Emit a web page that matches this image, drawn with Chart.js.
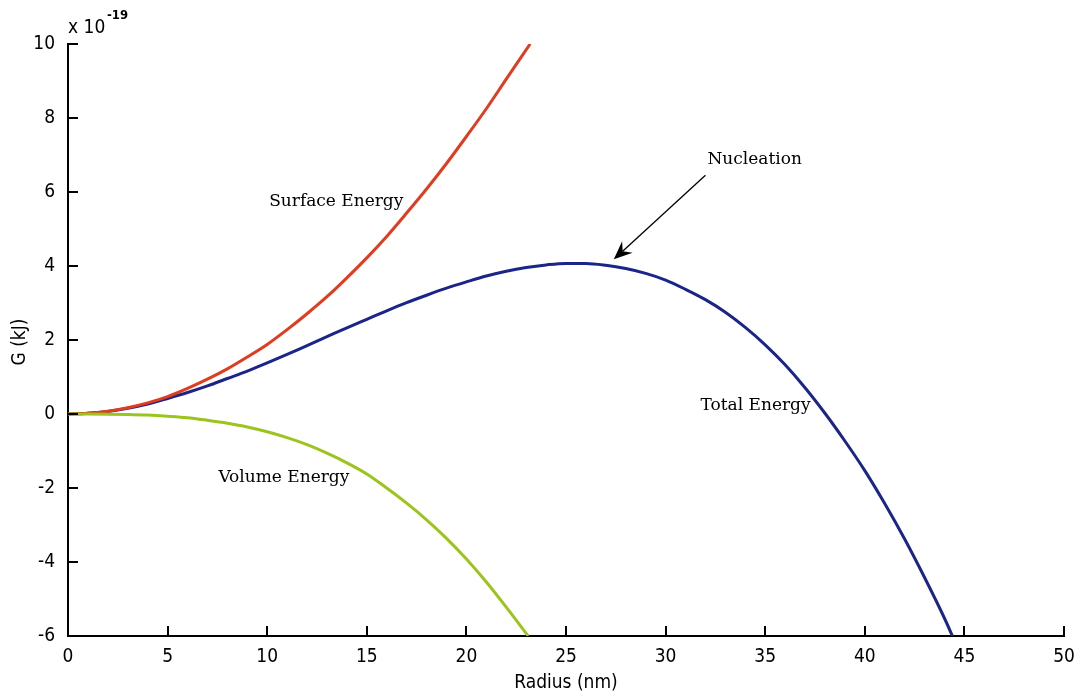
<!DOCTYPE html>
<html>
<head>
<meta charset="utf-8">
<script src="https://cdn.jsdelivr.net/npm/chart.js@4.4.1/dist/chart.umd.min.js"></script>
<style>
    html, body { margin: 0; padding: 0; background: #fff; }
    #wrap { width: 1080px; height: 696px; position: relative; }
</style>
</head>
<body>
<div id="wrap"><canvas id="chart"></canvas></div>
<script>
// 数据 (G in units of 1e-19 kJ)
const totalRadius = [0, 1, 2, 3, 4, 5, 6, 7, 8, 9, 10, 11, 12, 13, 14, 15, 16, 17, 18, 19, 20, 21, 22, 23, 24, 25, 26, 27, 28, 29, 30, 31, 32, 33, 34, 35, 36, 37, 38, 39, 40, 41, 42, 43, 44, 44.4];
const totalEnergy = [0, 0.02, 0.07, 0.155, 0.27, 0.42, 0.58, 0.76, 0.96, 1.16, 1.38, 1.61, 1.85, 2.09, 2.33, 2.56, 2.79, 3.01, 3.21, 3.4, 3.57, 3.73, 3.86, 3.96, 4.03, 4.07, 4.07, 4.02, 3.93, 3.8, 3.62, 3.37, 3.09, 2.75, 2.34, 1.87, 1.33, 0.71, 0.02, -0.73, -1.53, -2.42, -3.38, -4.42, -5.52, -6.0];

const surfaceRadius = [0, 1, 2, 3, 4, 5, 6, 7, 8, 9, 10, 11, 12, 13, 14, 15, 16, 17, 18, 19, 20, 21, 22, 23.2];
const surfaceEnergy = [0, 0.02, 0.075, 0.17, 0.3, 0.47, 0.69, 0.94, 1.22, 1.54, 1.88, 2.28, 2.71, 3.17, 3.68, 4.22, 4.8, 5.43, 6.08, 6.77, 7.5, 8.25, 9.05, 10.0];

const volumeRadius = [0, 1, 2, 3, 4, 5, 6, 7, 8, 9, 10, 11, 12, 13, 14, 15, 16, 17, 18, 19, 20, 21, 22, 23.1];
const volumeEnergy = [0, 0, -0.004, -0.013, -0.03, -0.06, -0.1, -0.17, -0.25, -0.35, -0.48, -0.64, -0.83, -1.06, -1.32, -1.62, -2.0, -2.41, -2.86, -3.36, -3.92, -4.54, -5.22, -6.0];

const xTicks = [0, 5, 10, 15, 20, 25, 30, 35, 40, 45, 50];
const yTicks = [-6, -4, -2, 0, 2, 4, 6, 8, 10];

const curveLabels = ['Surface Energy', 'Nucleation', 'Total Energy', 'Volume Energy'];
const labelAt = [[10.1, 5.73], [32.1, 6.87], [31.75, 0.22], [7.55, -1.72]];
const arrowFrom = [32.0, 6.45];
const arrowTo = [27.4, 4.18];

function pts(xs, ys) {
    return xs.map((x, i) => ({ x: x, y: ys[i] }));
}

const tickFont = { family: "'DejaVu Sans Condensed', 'DejaVu Sans', sans-serif", size: 19 };
const serif = "17px 'DejaVu Serif', serif";

// 轴刻度、标题和注释
const decorations = {
    id: 'decorations',
    afterDraw(chart) {
        const ctx = chart.ctx;
        const xs = chart.scales.x;
        const ys = chart.scales.y;
        const area = chart.chartArea;
        ctx.save();
        ctx.strokeStyle = '#000';
        ctx.lineWidth = 2;
        ctx.beginPath();
        xTicks.forEach(v => {
            const px = Math.round(xs.getPixelForValue(v));
            ctx.moveTo(px, area.bottom);
            ctx.lineTo(px, area.bottom - 10);
        });
        yTicks.forEach(v => {
            const py = Math.round(ys.getPixelForValue(v));
            ctx.moveTo(area.left, py);
            ctx.lineTo(area.left + 10, py);
        });
        ctx.stroke();

        // axis titles
        ctx.fillStyle = '#000';
        ctx.font = "19px 'DejaVu Sans Condensed', 'DejaVu Sans', sans-serif";
        ctx.textAlign = 'center';
        ctx.textBaseline = 'middle';
        ctx.fillText('Radius (nm)', (area.left + area.right) / 2, 683);
        ctx.save();
        ctx.translate(20, (area.top + area.bottom) / 2 + 2);
        ctx.rotate(-Math.PI / 2);
        ctx.fillText('G (kJ)', 0, 0);
        ctx.restore();

        // exponent
        ctx.textAlign = 'left';
        ctx.textBaseline = 'alphabetic';
        ctx.fillText('x 10', area.left, 33);
        ctx.font = "bold 13px 'DejaVu Sans Condensed', 'DejaVu Sans', sans-serif";
        ctx.fillText('-19', area.left + 39, 19);

        // curve labels
        ctx.font = serif;
        ctx.textBaseline = 'middle';
        curveLabels.forEach((t, i) => {
            ctx.fillText(t, xs.getPixelForValue(labelAt[i][0]), ys.getPixelForValue(labelAt[i][1]));
        });

        // arrow
        const x1 = xs.getPixelForValue(arrowFrom[0]), y1 = ys.getPixelForValue(arrowFrom[1]);
        const x2 = xs.getPixelForValue(arrowTo[0]), y2 = ys.getPixelForValue(arrowTo[1]);
        const ang = Math.atan2(y2 - y1, x2 - x1);
        ctx.lineWidth = 1.3;
        ctx.beginPath();
        ctx.moveTo(x1, y1);
        ctx.lineTo(x2 - 12 * Math.cos(ang), y2 - 12 * Math.sin(ang));
        ctx.stroke();
        const len = 20, wid = 0.4;
        ctx.beginPath();
        ctx.moveTo(x2, y2);
        ctx.lineTo(x2 - len * Math.cos(ang - wid), y2 - len * Math.sin(ang - wid));
        ctx.lineTo(x2 - len * 0.6 * Math.cos(ang), y2 - len * 0.6 * Math.sin(ang));
        ctx.lineTo(x2 - len * Math.cos(ang + wid), y2 - len * Math.sin(ang + wid));
        ctx.closePath();
        ctx.fill();
        ctx.restore();
    }
};

const lineStyle = {
    pointRadius: 0,
    borderWidth: 3,
    fill: false,
    cubicInterpolationMode: 'monotone'
};

new Chart(document.getElementById('chart'), {
    type: 'line',
    data: {
        datasets: [
            Object.assign({ label: 'Volume Energy', data: pts(volumeRadius, volumeEnergy), borderColor: '#9cc41e' }, lineStyle),
            Object.assign({ label: 'Surface Energy', data: pts(surfaceRadius, surfaceEnergy), borderColor: '#e03c1f' }, lineStyle),
            Object.assign({ label: 'Total Energy', data: pts(totalRadius, totalEnergy), borderColor: '#1b2589' }, lineStyle)
        ]
    },
    options: {
        responsive: true,
        maintainAspectRatio: false,
        animation: false,
        layout: { padding: { top: 44, right: 16, left: 0, bottom: 0 } },
        plugins: {
            legend: { display: false },
            tooltip: { enabled: false }
        },
        scales: {
            x: {
                type: 'linear',
                min: 0,
                max: 50,
                grid: { display: false },
                border: { display: true, color: '#000', width: 2 },
                ticks: { stepSize: 5, color: '#000', font: tickFont, padding: 2, maxRotation: 0 },
                afterFit(scale) { scale.height = 60; }
            },
            y: {
                min: -6,
                max: 10,
                grid: { display: false },
                border: { display: true, color: '#000', width: 2 },
                ticks: { stepSize: 2, color: '#000', font: tickFont, padding: 5 },
                afterFit(scale) { scale.width = 68; }
            }
        }
    },
    plugins: [decorations]
});
</script>
</body>
</html>
